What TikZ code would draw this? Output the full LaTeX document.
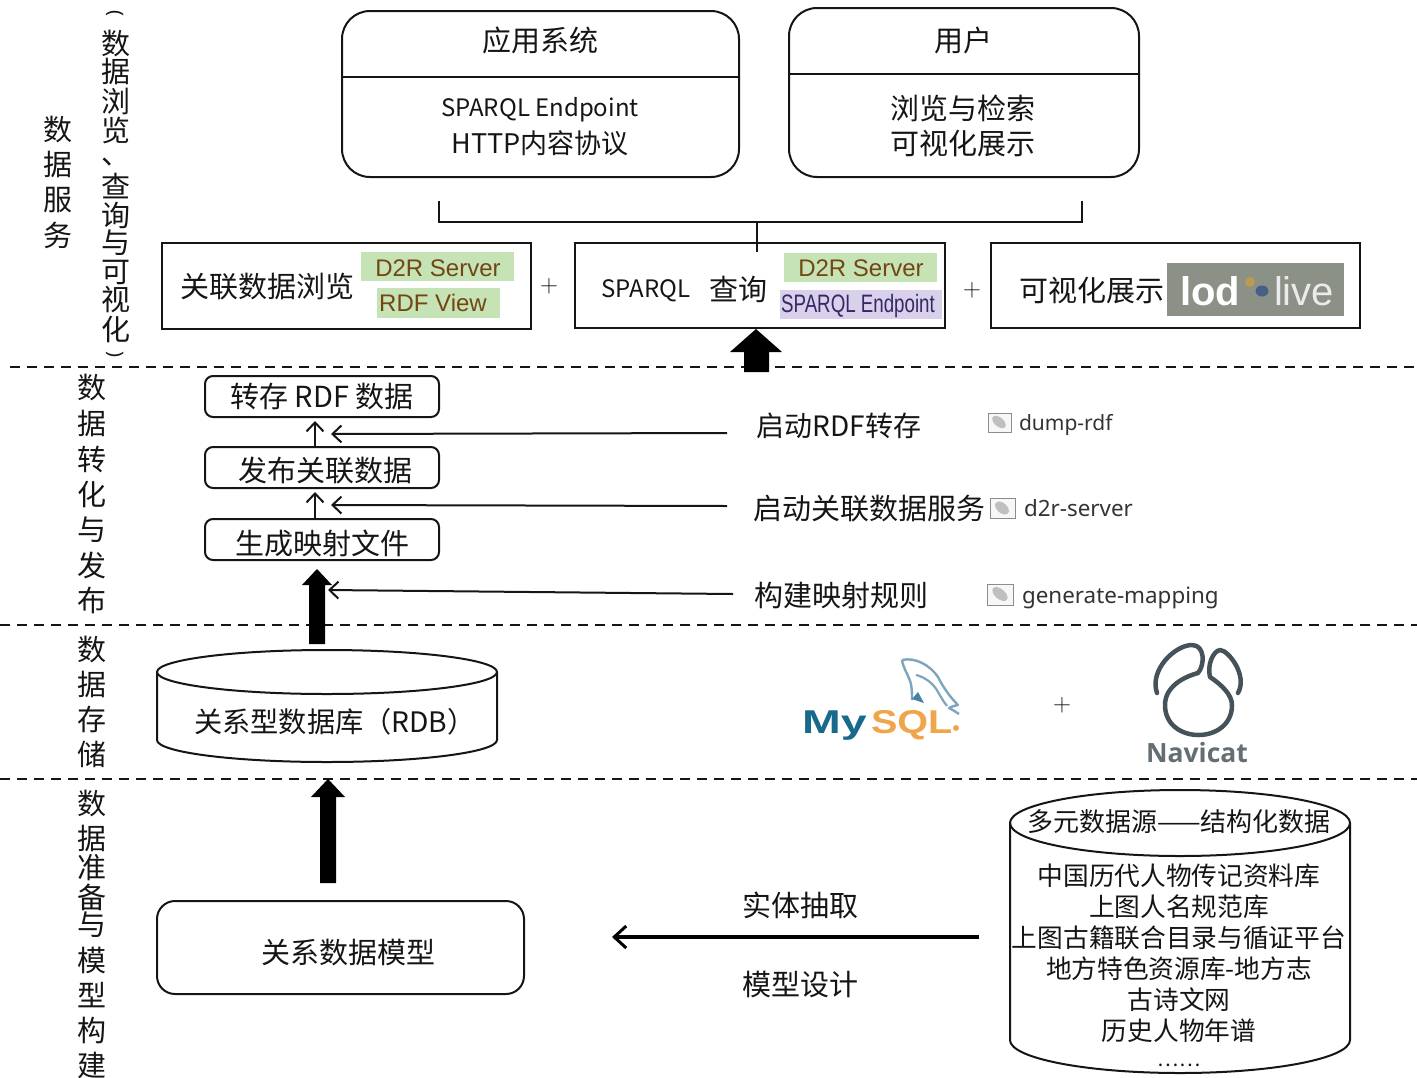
\documentclass[tikz,border=0pt]{standalone}
\usepackage{fontspec}
\setmainfont{Noto Sans CJK SC}
\newfontfamily\latinnarrow{Liberation Sans}
\newfontfamily\notolatin{Noto Sans}
\newfontfamily\navfont{Open Sans}
\newcommand{\fsz}[1]{\fontsize{#1}{#1}\selectfont}
\definecolor{ink}{HTML}{151515}
\definecolor{hlgreen}{HTML}{C5E3B4}
\definecolor{hlpurple}{HTML}{D9D0EC}
\definecolor{lodgray}{HTML}{8C9187}
\definecolor{dolphin}{RGB}{125,165,190}
\definecolor{sqlorange}{RGB}{240,165,75}
\definecolor{myblue}{RGB}{25,105,140}
\usetikzlibrary{arrows.meta}
\tikzset{
  every node/.style={inner sep=0pt,outer sep=0pt,text=ink},
  frame/.style={draw=ink,line width=2pt},
  txt/.style={font=\fsz{29},anchor=center},
  small/.style={font=\fsz{25.7},anchor=center},
  vchar/.style={font=\fsz{29},anchor=center},
  dash line/.style={draw=ink,line width=2pt,dash pattern=on 10pt off 7pt},
  fat/.style={fill=black,draw=none},
  thin arrow/.style={draw=ink,line width=2pt,-{Straight Barb[length=9pt,width=17pt,line width=2pt]}},
  tag/.style={font=\latinnarrow\fsz{24}},
  cmd/.style={font=\notolatin\fsz{22.4},anchor=west,text=black!80},
  plus/.style={font=\fsz{30}},
  iconbox/.style={draw=black!45,line width=1pt,fill=black!3},
  iconblob/.style={fill=black!25,draw=none},
  stepbox/.style={draw=ink,line width=2pt,rounded corners=8pt,minimum width=234pt,minimum height=41pt,font=\fsz{29}},
  vparen/.style={font=\notolatin\fsz{20},anchor=center}
}
\begin{document}
\begin{tikzpicture}[x=1pt,y=-1pt]
\useasboundingbox (0,0) rectangle (1417,1077);
\clip (0,0) rectangle (1417,1077);

% --- dashed separators
\coordinate (d1a) at (10,367); \coordinate (d1b) at (1417,367);
\coordinate (d2a) at (0,625);  \coordinate (d2b) at (1417,625);
\coordinate (d3a) at (0,779);  \coordinate (d3b) at (1417,779);
\draw[dash line] (d1a) -- (d1b);
\draw[dash line] (d2a) -- (d2b);
\draw[dash line] (d3a) -- (d3b);

% --- left vertical labels
\foreach \c/\y [count=\i] in {数/130,据/165,服/200,务/235}
  \node[vchar] (sv\i) at (58,\y) {\c};
\foreach \c/\y [count=\i] in {数/44,据/72,浏/101,览/130,查/186,询/215,与/243,可/272,视/300,化/329}
  \node[vchar] (br\i) at (116,\y) {\c};
\node[vchar,text height=5pt,text depth=0pt] (brd) at (116,162) {、};
\node[vparen] (brl) at (115,15) {\rotatebox[origin=c]{-90}{(}};
\node[vparen] (brr) at (115,356) {\rotatebox[origin=c]{-90}{)}};
\foreach \c/\y [count=\i] in {数/388,据/424,转/459,化/494,与/530,发/565,布/600}
  \node[vchar] (zh\i) at (92,\y) {\c};
\foreach \c/\y [count=\i] in {数/649,据/684,存/719,储/754}
  \node[vchar] (cc\i) at (92,\y) {\c};
\foreach \c/\y [count=\i] in {数/803,据/838,准/868,备/897,与/925,模/960,型/995,构/1030,建/1065}
  \node[vchar] (mx\i) at (92,\y) {\c};

% --- top boxes
\draw[frame,rounded corners=28pt] (342,11) rectangle (739,177);
\draw[frame] (342,77) -- (739,77);
\node[txt] (app) at (540,40) {应用系统};
\node[txt,font=\fsz{24}] (app1) at (540,110) {SPARQL Endpoint};
\node[txt,font=\fsz{27}] (app2) at (540,143) {HTTP内容协议};
\draw[frame,rounded corners=28pt] (789,8) rectangle (1139,177);
\draw[frame] (789,74) -- (1139,74);
\node[txt] (usr) at (963,40) {用户};
\node[txt] (usr1) at (963,108) {浏览与检索};
\node[txt] (usr2) at (963,143) {可视化展示};

% --- bracket
\coordinate (brA) at (439,201); \coordinate (brB) at (1082,201);
\coordinate (brJ) at (757,222); \coordinate (brS) at (757,252);
\draw[draw=ink,line width=2pt] (brA) |- (brJ) -| (brB);
\draw[draw=ink,line width=2pt] (brJ) -- (brS);

% --- service boxes
\draw[frame] (162,243) rectangle (531,329);
\draw[frame] (575,243) rectangle (945,328);
\draw[frame] (991,243) rectangle (1360,328);
\node[txt] (s1) at (267.5,287) {关联数据浏览};
\fill[hlgreen] (361,252) rectangle (514,281);
\fill[hlgreen] (377,288) rectangle (500,318);
\node[tag,text={rgb,255:red,115;green,70;blue,20}] (s1a) at (438,268) {D2R Server};
\node[tag,text={rgb,255:red,115;green,70;blue,20}] (s1b) at (433,303) {RDF View};
\node[txt,font=\fsz{24}] (s2a) at (646,291) {SPARQL};
\node[txt] (s2b) at (738,289) {查询};
\fill[hlgreen] (784,253) rectangle (937,282);
\fill[hlpurple] (780,290) rectangle (942,319);
\node[tag,text={rgb,255:red,115;green,70;blue,20}] (s2c) at (861,268) {D2R Server};
\node[tag,text={rgb,255:red,55;green,40;blue,100}] (s2d) at (858,306) {\scalebox{0.78}[1.05]{SPARQL Endpoint}};
\node[txt] (s3) at (1091.5,290) {可视化展示};
\fill[lodgray] (1167,263) rectangle (1344,316);
\node[font=\latinnarrow\bfseries\fsz{40},text=white,anchor=center] (lod) at (1210,291) {lod};
\node[font=\latinnarrow\fsz{40},text=white!92!black,anchor=center] (live) at (1304,291) {live};
\fill[color={rgb,255:red,185;green,155;blue,80}] (1250,282) circle (5pt);
\fill[color={rgb,255:red,70;green,95;blue,135}] (1262,291) ellipse (6.5pt and 5.5pt);
\node[plus] (p1) at (549,286) {$+$};
\node[plus] (p2) at (972,290) {$+$};

% --- fat arrow top
\fill[fat] (756,329) -- (782,352) -- (769,352) -- (769,372) -- (744,372) -- (744,352) -- (730,352) -- cycle;

% --- conversion boxes
\node[stepbox] (b1) at (322,396.5) {转存 RDF 数据};
\node[stepbox] (b2) at (322,467.5) {};
\node[txt] (b2t) at (325,470.5) {发布关联数据};
\node[stepbox] (b3) at (322,539.5) {};
\node[txt] (b3t) at (322,543) {生成映射文件};
\coordinate (u1a) at (315,447); \coordinate (u1b) at (315,421);
\coordinate (u2a) at (315,519); \coordinate (u2b) at (315,492);
\draw[thin arrow] (u1a) -- (u1b);
\draw[thin arrow] (u2a) -- (u2b);
\coordinate (h1a) at (727,433); \coordinate (h1b) at (331,434);
\coordinate (h2a) at (727,506); \coordinate (h2b) at (331,505);
\coordinate (h3a) at (733,594); \coordinate (h3b) at (328,590);
\draw[thin arrow] (h1a) -- (h1b);
\draw[thin arrow] (h2a) -- (h2b);
\draw[thin arrow] (h3a) -- (h3b);
\node[txt,font=\fsz{28}] (l1) at (839,426) {启动RDF转存};
\node[txt] (l2) at (869,509) {启动关联数据服务};
\node[txt] (l3) at (841,595) {构建映射规则};
% icons
\draw[iconbox] (988,413) rectangle (1011,432);
\fill[iconblob,rotate around={-40:(999,422)}] (999,422) ellipse (8pt and 4.5pt);
\draw[iconbox] (990,498) rectangle (1015,518);
\fill[iconblob,rotate around={-40:(1002,508)}] (1002,508) ellipse (8pt and 5pt);
\draw[iconbox] (987,584) rectangle (1013,605);
\fill[iconblob,rotate around={-40:(1000,594)}] (1000,594) ellipse (9pt and 5pt);
\node[cmd,font=\notolatin\fsz{21}] (c1) at (1019,424.5) {dump-rdf};
\node[cmd] (c2) at (1024,508) {d2r-server};
\node[cmd] (c3) at (1022,597.5) {generate-mapping};

% --- fat arrow to mapping
\fill[fat] (317,569) -- (332,585) -- (325,585) -- (325,644) -- (309,644) -- (309,585) -- (302,585) -- cycle;

% --- RDB cylinder
\fill[white] (157,672) -- (157,740) arc[start angle=180,end angle=360,x radius=170pt,y radius=22pt] -- (497,672) -- cycle;
\draw[frame] (157,672) -- (157,740) arc[start angle=180,end angle=360,x radius=170pt,y radius=22pt] -- (497,672);
\draw[frame,fill=white] (327,672) ellipse (170pt and 22pt);
\node[txt,font=\fsz{28.2}] (rdb) at (335,722) {关系型数据库（RDB）};

% --- MySQL logo
\node[font=\latinnarrow\bfseries\fsz{33},anchor=base west,text=myblue] (my) at (802,733) {\scalebox{1.41}[1]{My}};
\node[font=\latinnarrow\bfseries\fsz{33},anchor=base west,text=sqlorange] (sql) at (871,733) {\scalebox{1.2}[1]{SQL}};
\fill[color=sqlorange] (956,728) circle (3pt);
\draw[color=dolphin,line width=2.4pt,line join=round]
  (902,660) .. controls (915,657) and (930,665) .. (938,677)
  .. controls (943,687) and (950,697) .. (958,705)
  .. controls (953,706) and (951,707) .. (949,708)
  .. controls (953,710) and (956,712) .. (959,714);
\draw[color=dolphin,line width=2.4pt,line join=round]
  (902,660) .. controls (903,668) and (909,676) .. (911,684)
  .. controls (912,690) and (912,695) .. (912,700);
\draw[color=dolphin,line width=2.2pt]
  (916,675) .. controls (925,677) and (934,684) .. (938,692)
  .. controls (941,697) and (943,701) .. (947,706);
\fill[color={rgb,255:red,70;green,130;blue,165}] (918,692) -- (924,703) -- (912,699) -- cycle;
\node[plus] (p3) at (1062,705) {$+$};

% --- Navicat logo
\draw[color={rgb,255:red,70;green,82;blue,90},line width=4.5pt,line cap=round,line join=round]
  (1157,693) .. controls (1149,670) and (1175,645) .. (1192,645)
  .. controls (1205,645) and (1205,665) .. (1198,673)
  .. controls (1183,677) and (1165,687) .. (1165,705)
  .. controls (1165,745) and (1232,745) .. (1232,705)
  .. controls (1232,695) and (1222,685) .. (1210,677)
  .. controls (1207,665) and (1213,651) .. (1220,650)
  .. controls (1228,650) and (1248,675) .. (1238,693);
\node[font=\navfont\bfseries\fsz{26.5},text={rgb,255:red,100;green,110;blue,115}] (nav) at (1197,753) {Navicat};

% --- fat arrow to RDB
\fill[fat] (328,779) -- (345,797) -- (336,797) -- (336,883) -- (320,883) -- (320,797) -- (311,797) -- cycle;

% --- relation model
\draw[frame,rounded corners=18pt] (157,901) rectangle (524,994);
\node[txt] (model) at (348,952) {关系数据模型};
\node[txt] (ex1) at (800,905) {实体抽取};
\node[txt] (ex2) at (800,985) {模型设计};
\coordinate (ma) at (979,937); \coordinate (mb) at (612,937);
\draw[draw=black,line width=4.5pt,-{Straight Barb[length=12pt,width=22pt,line width=3pt]}] (ma) -- (mb);

% --- sources cylinder
\draw[frame] (1010,823) -- (1010,1040) arc[start angle=180,end angle=360,x radius=170pt,y radius=33pt] -- (1350,823);
\draw[frame] (1180,823) ellipse (170pt and 33pt);
\node[small,font=\fsz{26}] (src0) at (1179,822) {多元数据源——结构化数据};
\node[small] (src1) at (1179,876) {中国历代人物传记资料库};
\node[small] (src2) at (1179,907) {上图人名规范库};
\node[small] (src3) at (1179,938) {上图古籍联合目录与循证平台};
\node[small] (src4) at (1179,969) {地方特色资源库-地方志};
\node[small] (src5) at (1179,1000) {古诗文网};
\node[small] (src6) at (1179,1031) {历史人物年谱};
\node[small,font=\fsz{20},text height=4pt,text depth=0pt] (src7) at (1179,1064) {……};
\end{tikzpicture}
\end{document}
